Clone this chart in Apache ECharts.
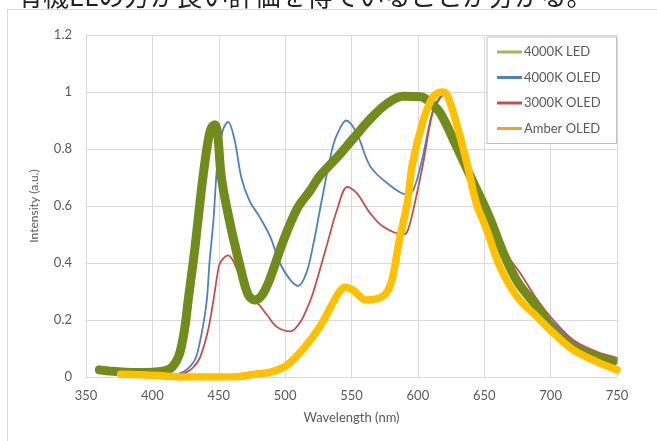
<!DOCTYPE html>
<html>
<head>
<meta charset="utf-8">
<script src="https://cdn.jsdelivr.net/npm/echarts@6/dist/echarts.min.js"></script>
<style>
html,body{margin:0;padding:0;background:#fff;}
#c{width:657px;height:441px;}
</style>
</head>
<body>
<div id="c"></div>
<script>
// ---- data ----
const xTicks = [350, 400, 450, 500, 550, 600, 650, 700, 750];
const yTicks = [0, 0.2, 0.4, 0.6, 0.8, 1, 1.2];
const seriesNames = ['4000K LED', '4000K OLED', '3000K OLED', 'Amber OLED'];

const led4000X = [360,370,380,390,400,410,415,420,424,427,432,437,441,444,447,449,452,458,466,472,477,483,489,498,509,519,526,539,551,564,577,589,602,609,617,629,641,654,664,675,690,702,717,735,747];
const led4000Y = [0.025,0.02,0.017,0.016,0.017,0.022,0.035,0.075,0.16,0.27,0.45,0.66,0.80,0.87,0.885,0.86,0.70,0.55,0.39,0.29,0.27,0.29,0.35,0.47,0.59,0.655,0.705,0.77,0.835,0.905,0.96,0.985,0.983,0.965,0.925,0.81,0.69,0.56,0.44,0.335,0.245,0.165,0.105,0.07,0.053];

const oled4000X = [380,400,415,423,429,433,438,441,443,446,449,453,457,462,467,473,481,489,496,504,510,516,521,528,536,541,546,554,564,577,592,597,604,611,617,620,629,641,654,664,677,690,702,717,735,750];
const oled4000Y = [0.003,0.003,0.005,0.017,0.04,0.07,0.175,0.27,0.40,0.55,0.75,0.865,0.895,0.83,0.70,0.62,0.56,0.49,0.40,0.34,0.32,0.365,0.46,0.63,0.81,0.87,0.90,0.855,0.74,0.68,0.64,0.66,0.78,0.93,0.985,0.99,0.87,0.70,0.55,0.43,0.335,0.26,0.19,0.125,0.082,0.06];

const oled3000X = [380,400,418,426,431,436,442,446,449,451,457,464,471,479,486,494,504,511,516,521,531,539,547,554,564,574,589,592,596,604,611,617,620,629,641,654,660,667,677,690,702,717,735,750];
const oled3000Y = [0.003,0.003,0.005,0.017,0.035,0.07,0.165,0.27,0.36,0.40,0.427,0.375,0.28,0.26,0.22,0.175,0.16,0.19,0.235,0.295,0.455,0.585,0.667,0.645,0.575,0.527,0.50,0.51,0.575,0.75,0.925,0.98,0.99,0.87,0.71,0.57,0.50,0.43,0.365,0.27,0.20,0.13,0.088,0.067];

const amberX = [376,390,405,421,440,455,466,478,489,501,513,526,536,541,545,551,561,571,577,581,586,592,596,604,611,618,622,629,637,644,652,662,675,690,702,717,735,750];
const amberY = [0.01,0.008,0.005,0.0,0.0,0.0,0.002,0.01,0.017,0.04,0.095,0.175,0.26,0.30,0.315,0.305,0.27,0.277,0.30,0.35,0.48,0.61,0.75,0.90,0.98,1.0,0.99,0.89,0.75,0.61,0.515,0.385,0.28,0.21,0.155,0.095,0.053,0.025];

const headline = '有機ELの方が良い評価を得ていることが分かる。';

// ---- build ----
function pairs(xs, ys){ return xs.map((x,i)=>[x, ys[i]]); }
const FONT = 'Lato, "Open Sans", sans-serif';
const TXT = '#595959';

const chart = echarts.init(document.getElementById('c'), null, {renderer:'canvas'});

function line(name, xs, ys, color, w, z){
  return {
    name, type:'line', data:pairs(xs,ys), showSymbol:false, symbol:'none',
    smooth:0.35, color,
    lineStyle:{color, width:w, cap:'round', join:'round'}, z, silent:true
  };
}

chart.setOption({
  animation:false,
  backgroundColor:'#fff',
  textStyle:{fontFamily:FONT},
  graphic:[
    {type:'rect', shape:{x:7.5, y:9.5, width:660, height:440}, style:{fill:'none', stroke:'#d9d9d9', lineWidth:1}, z:-10},
    {type:'text', x:17, y:9, style:{text:headline, font:'26px "Noto Sans CJK JP"', fill:'#222', textVerticalAlign:'bottom'}}
  ],
  grid:{left:86, right:40, top:35, bottom:64},
  legend:{
    data:seriesNames,
    orient:'vertical', left:487, top:37,
    padding:[7, 16, 7, 10],
    itemWidth:25, itemHeight:3, itemGap:9.5,
    icon:'rect',
    borderColor:'#bfbfbf', borderWidth:1,
    backgroundColor:'#fff',
    textStyle:{fontFamily:FONT, fontSize:13, color:TXT, lineHeight:16, padding:[0,0,0,-3]}
  },
  xAxis:{
    type:'value', min:350, max:750, interval:50,
    name:'Wavelength (nm)', nameLocation:'middle', nameGap:34,
    nameTextStyle:{fontFamily:FONT, fontSize:13, color:TXT},
    axisLine:{show:true, lineStyle:{color:'#d9d9d9'}},
    axisTick:{show:false},
    axisLabel:{fontFamily:FONT, fontSize:13, color:TXT, margin:12},
    splitLine:{show:true, lineStyle:{color:'#d9d9d9'}}
  },
  yAxis:{
    type:'value', min:0, max:1.2, interval:0.2,
    name:'Intensity (a.u.)', nameLocation:'middle', nameGap:46,
    nameTextStyle:{fontFamily:FONT, fontSize:12, color:TXT},
    axisLine:{show:true, lineStyle:{color:'#d9d9d9'}},
    axisTick:{show:false},
    axisLabel:{fontFamily:FONT, fontSize:13, color:TXT, margin:14},
    splitLine:{show:true, lineStyle:{color:'#d9d9d9'}}
  },
  series:[
    line('4000K LED', led4000X, led4000Y, '#9BBB59', 2, 2),
    line('4000K OLED', oled4000X, oled4000Y, '#4F81BD', 1.8, 2),
    line('3000K OLED', oled3000X, oled3000Y, '#C0504D', 1.8, 2),
    line('Amber OLED', amberX, amberY, '#F2A12E', 2, 2),
    line('4000K LED trace', led4000X, led4000Y, '#728B1D', 9, 3),
    line('Amber OLED trace', amberX, amberY, '#FFC000', 7.5, 4)
  ]
});
</script>
</body>
</html>
